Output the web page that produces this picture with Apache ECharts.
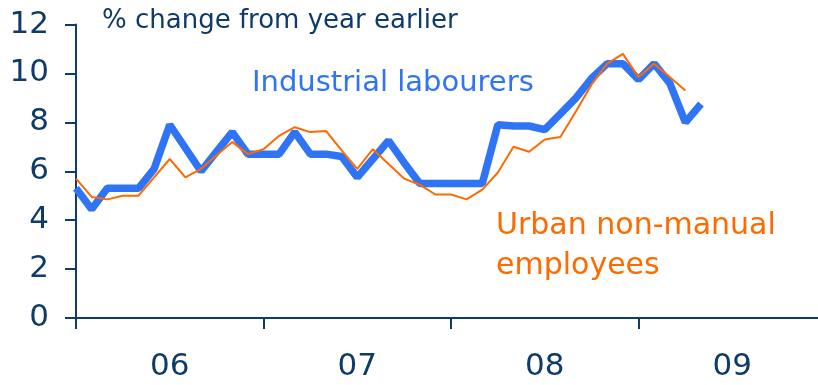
<!DOCTYPE html>
<html>
<head>
<meta charset="utf-8">
<script src="https://cdn.jsdelivr.net/npm/echarts@6/dist/echarts.min.js"></script>
<style>
  html, body { margin: 0; padding: 0; background: #ffffff; overflow: hidden; }
  #chart { width: 826px; height: 385px; }
</style>
</head>
<body>
<div id="chart"></div>
<script>
// Year labels shown under the horizontal axis (one per calendar year)
const years = ['06', '07', '08', '09'];

// Monthly % change from a year earlier, starting January 2006
const industrialLabourers = [
  5.3, 4.45, 5.3, 5.3, 5.3, 6.1, 7.9, 6.95, 6.0, 6.8, 7.6, 6.7,
  6.7, 6.7, 7.6, 6.7, 6.7, 6.6, 5.75, 6.5, 7.25, 6.35, 5.5, 5.5,
  5.5, 5.5, 5.5, 7.9, 7.85, 7.85, 7.7, 8.35, 9.0, 9.8, 10.4, 10.4,
  9.75, 10.4, 9.6, 8.0, 8.75
];
const urbanNonManual = [
  5.7, 4.95, 4.85, 5.0, 5.0, 5.75, 6.5, 5.75, 6.1, 6.65, 7.2, 6.7,
  6.9, 7.45, 7.8, 7.6, 7.65, 6.85, 6.1, 6.9, 6.3, 5.7, 5.45, 5.05,
  5.05, 4.85, 5.25, 5.95, 7.0, 6.8, 7.3, 7.4, 8.45, 9.55, 10.4, 10.8,
  9.85, 10.4, 9.85, 9.3
];

// y-axis tick values
const yTicks = [0, 2, 4, 6, 8, 10, 12];

const navy = '#0f3b69';
const blue = '#2f74f5';
const orange = '#ff6a00';
const font = '"DejaVu Sans", Verdana, sans-serif';

const toPoints = arr => arr.map((v, i) => [i, v]);

const chart = echarts.init(document.getElementById('chart'), null, { renderer: 'canvas' });

chart.setOption({
  animation: false,
  backgroundColor: '#ffffff',
  grid: { left: 76, right: 0, top: 24.5, bottom: 67, containLabel: false },
  xAxis: [
    {
      type: 'value',
      min: 0,
      max: years.length * 12,
      interval: 12,
      axisLine: { show: true, lineStyle: { color: navy, width: 2 } },
      axisTick: { show: true, inside: false, length: 11, lineStyle: { color: navy, width: 2 } },
      axisLabel: { show: false },
      splitLine: { show: false }
    },
    {
      type: 'category',
      position: 'bottom',
      data: years,
      boundaryGap: true,
      axisLine: { show: false },
      axisTick: { show: false },
      axisLabel: { color: navy, fontFamily: font, fontSize: 31, margin: 33 },
      splitLine: { show: false }
    }
  ],
  yAxis: {
    type: 'value',
    min: yTicks[0],
    max: yTicks[yTicks.length - 1],
    interval: 2,
    axisLine: { show: true, lineStyle: { color: navy, width: 2 } },
    axisTick: { show: true, inside: false, length: 11, lineStyle: { color: navy, width: 2 } },
    axisLabel: { color: navy, fontFamily: font, fontSize: 31, margin: 27 },
    splitLine: { show: false }
  },
  series: [
    {
      name: 'Urban non-manual employees',
      type: 'line',
      xAxisIndex: 0,
      data: toPoints(urbanNonManual),
      symbol: 'none',
      lineStyle: { color: orange, width: 2 },
      z: 3
    },
    {
      name: 'Industrial labourers',
      type: 'line',
      xAxisIndex: 0,
      data: toPoints(industrialLabourers),
      symbol: 'none',
      lineStyle: { color: blue, width: 7.5 },
      z: 2
    }
  ],
  graphic: [
    {
      type: 'text', left: 102, top: 8,
      style: { text: '% change from year earlier', fill: navy, font: '26px ' + font }
    },
    {
      type: 'text', left: 252, top: 69,
      style: { text: 'Industrial labourers', fill: blue, font: '29px ' + font }
    },
    {
      type: 'text', left: 496, top: 206,
      style: { text: 'Urban non-manual\nemployees', fill: orange, font: '30px ' + font, lineHeight: 40 }
    }
  ]
});
</script>
</body>
</html>
